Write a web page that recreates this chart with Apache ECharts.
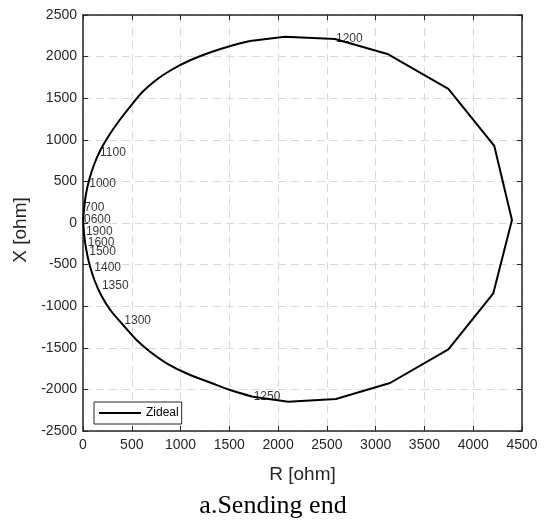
<!DOCTYPE html>
<html>
<head>
<meta charset="utf-8">
<script src="https://cdn.jsdelivr.net/npm/echarts@6/dist/echarts.min.js"></script>
<style>html,body{margin:0;padding:0;background:#fff}#c{width:548px;height:527px}</style>
</head>
<body>
<div id="c"></div>
<script>
// Impedance locus (R, X) in ohm — coarse right-hand part (straight segments)
const polyR = [1711, 2070, 2583, 3129, 3745, 4216, 4397, 4206, 3745, 3147, 2593, 2104, 1739];
const polyX = [2187, 2239, 2212, 2028, 1611, 926, 36, -845, -1518, -1923, -2115, -2148, -2088];
// densely sampled left-hand arc (from the 1250 point round to the top)
const arcR = [1739, 1507, 1316, 1076, 871, 691, 549, 411, 280, 185, 117, 68, 34, 12, 3,
  10, 29, 63, 112, 179, 269, 376, 496, 609, 750, 904, 1104, 1317, 1547, 1711];
const arcX = [-2088, -2007, -1923, -1815, -1695, -1550, -1406, -1226, -1046, -865, -685, -505, -325, -144, 36,
  156, 337, 517, 697, 877, 1058, 1238, 1418, 1575, 1719, 1839, 1959, 2055, 2139, 2187];

// Frequency annotations
const labelText = ['1200', '1100', '1000', '700', '0600', '1900', '1600', '1500', '1400', '1350', '1300', '1250'];
const labelR = [2583, 164, 54, 3, 0, 20, 38, 54, 106, 184, 413, 1739];
const labelX = [2212, 841, 469, 180, 36, -104, -240, -349, -541, -754, -1178, -2088];

const xMin = 0, xMax = 4500, xStep = 500;
const yMin = -2500, yMax = 2500, yStep = 500;

const dark = '#262626';
const font = '"Liberation Sans", Arial, sans-serif';

const chart = echarts.init(document.getElementById('c'), null, {renderer: 'canvas'});

const baseAxis = {
  axisLine: {show: true, onZero: false, lineStyle: {color: dark, width: 1.5}},
  axisTick: {show: true, inside: true, length: 5, lineStyle: {color: dark, width: 1}},
};
const plain = v => String(v);

chart.setOption({
  animation: false,
  backgroundColor: '#fff',
  title: {
    text: 'a.Sending end',
    left: 268, top: 488, textAlign: 'center',
    textStyle: {fontFamily: '"Liberation Serif", "Times New Roman", serif', fontSize: 26, fontWeight: 'normal', color: '#000'}
  },
  grid: {left: 83, right: 26, top: 15, bottom: 96, containLabel: false},
  legend: {
    data: ['Zideal'],
    left: 94, top: 402,
    orient: 'vertical',
    padding: [4, 3, 4, 5],
    icon: 'rect',
    itemWidth: 42, itemHeight: 2,
    borderColor: dark, borderWidth: 1,
    backgroundColor: '#fff',
    textStyle: {fontFamily: font, fontSize: 12, color: '#000', lineHeight: 14}
  },
  xAxis: [
    Object.assign({}, baseAxis, {
      type: 'value', position: 'bottom', min: xMin, max: xMax, interval: xStep,
      name: 'R [ohm]', nameLocation: 'middle', nameGap: 34,
      nameTextStyle: {fontFamily: font, fontSize: 19, color: dark},
      axisLabel: {fontFamily: font, fontSize: 14, color: dark, margin: 7, formatter: plain},
      splitLine: {show: true, lineStyle: {color: '#d9d9d9', width: 1, type: [8, 5]}}
    }),
    Object.assign({}, baseAxis, {
      type: 'value', position: 'top', min: xMin, max: xMax, interval: xStep,
      axisLabel: {show: false}, splitLine: {show: false}
    })
  ],
  yAxis: [
    Object.assign({}, baseAxis, {
      type: 'value', position: 'left', min: yMin, max: yMax, interval: yStep,
      name: 'X [ohm]', nameLocation: 'middle', nameGap: 41, nameRotate: 90,
      nameTextStyle: {fontFamily: font, fontSize: 19, color: dark, padding: [0, 14, 0, 0]},
      axisLabel: {fontFamily: font, fontSize: 14, color: dark, margin: 6, formatter: plain},
      splitLine: {show: true, lineStyle: {color: '#d9d9d9', width: 1, type: [8, 5]}}
    }),
    Object.assign({}, baseAxis, {
      type: 'value', position: 'right', min: yMin, max: yMax, interval: yStep,
      axisLabel: {show: false}, splitLine: {show: false}
    })
  ],
  series: [
    {
      name: 'Zideal',
      type: 'line',
      symbol: 'none',
      smooth: false,
      data: polyR.map((r, i) => [r, polyX[i]]),
      lineStyle: {color: '#000', width: 2},
      itemStyle: {color: '#000'},
      z: 3
    },
    {
      name: 'Zideal',
      type: 'line',
      symbol: 'none',
      smooth: 0.3,
      data: arcR.map((r, i) => [r, arcX[i]]),
      lineStyle: {color: '#000', width: 2},
      itemStyle: {color: '#000'},
      z: 3
    },
    {
      name: 'labels',
      type: 'scatter',
      symbolSize: 0,
      silent: true,
      data: labelR.map((r, i) => [r, labelX[i], labelText[i]]),
      label: {
        show: true, position: 'right', distance: 1,
        fontFamily: font, fontSize: 12, color: '#000',
        formatter: p => p.value[2]
      },
      z: 4
    }
  ]
});
</script>
</body>
</html>
